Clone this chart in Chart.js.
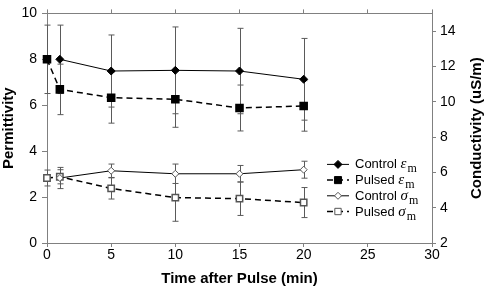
<!DOCTYPE html>
<html>
<head>
<meta charset="utf-8">
<script src="https://cdn.jsdelivr.net/npm/chart.js@4.4.0/dist/chart.umd.min.js"></script>
<style>
  html, body { margin: 0; padding: 0; background: #fff; }
  #wrap { width: 489px; height: 288px; }
</style>
</head>
<body>
<div id="wrap"><canvas id="myChart" width="489" height="288"></canvas></div>
<script>
// time points (min)
const timeControl = [1, 5, 10, 15, 20];
const timePulsed = [0, 1, 5, 10, 15, 20];

// permittivity (left axis)
const controlEps = [8.0, 7.49, 7.52, 7.49, 7.13];
const controlEpsErr = [1.49, 1.57, 1.89, 1.86, 1.78];
const pulsedEps = [8.0, 6.69, 6.33, 6.26, 5.88, 5.97];
const pulsedEpsErr = [1.49, 1.1, 1.11, 1.22, 1.0, 1.1];

// conductivity uS/m (right axis)
const controlSigma = [5.68, 6.09, 5.92, 5.92, 6.15];
const controlSigmaErr = [0.6, 0.38, 0.55, 0.47, 0.48];
const pulsedSigma = [5.68, 5.75, 5.09, 4.57, 4.51, 4.29];
const pulsedSigmaErr = [0.45, 0.4, 0.6, 1.34, 0.95, 0.85];

const toPoints = (xs, ys) => xs.map((x, i) => ({ x: x, y: ys[i] }));

const FONT = '"Liberation Sans", Arial, sans-serif';
const rightTitle = 'Conductivity (uS/m)';

// vertical error bars drawn through the chart scales
const errorBars = {
  id: 'errorBars',
  beforeDatasetsDraw(chart) {
    const ctx = chart.ctx;
    ctx.save();
    ctx.strokeStyle = '#5a5a5a';
    ctx.lineWidth = 1;
    chart.data.datasets.forEach((ds, i) => {
      if (!ds.errors) return;
      const meta = chart.getDatasetMeta(i);
      const xs = chart.scales[meta.xAxisID];
      const ys = chart.scales[meta.yAxisID];
      ds.data.forEach((p, j) => {
        const e = ds.errors[j];
        const px = Math.round(xs.getPixelForValue(p.x)) + 0.5;
        const top = ys.getPixelForValue(p.y + e);
        const bot = ys.getPixelForValue(p.y - e);
        ctx.beginPath();
        ctx.moveTo(px, top);
        ctx.lineTo(px, bot);
        ctx.moveTo(px - 3, top);
        ctx.lineTo(px + 3, top);
        ctx.moveTo(px - 3, bot);
        ctx.lineTo(px + 3, bot);
        ctx.stroke();
      });
    });
    ctx.restore();
  }
};

// right axis title, reading bottom to top like the left one
const rightAxisTitle = {
  id: 'rightAxisTitle',
  afterDraw(chart) {
    const s = chart.scales.y2;
    const ctx = chart.ctx;
    ctx.save();
    ctx.translate(s.right - 12, (s.top + s.bottom) / 2);
    ctx.rotate(-Math.PI / 2);
    ctx.font = 'bold 15px ' + FONT;
    ctx.fillStyle = '#000';
    ctx.textAlign = 'center';
    ctx.textBaseline = 'middle';
    ctx.fillText(rightTitle, 0, 0);
    ctx.restore();
  }
};

// legend inside the plot area, line sample + marker + label with subscript
const innerLegend = {
  id: 'innerLegend',
  afterDraw(chart) {
    const ctx = chart.ctx;
    const area = chart.chartArea;
    const x0 = area.right - 105;
    let y = area.top + 151;
    ctx.save();
    chart.data.datasets.forEach((ds) => {
      ctx.strokeStyle = '#000';
      ctx.lineWidth = ds.borderWidth;
      ctx.setLineDash(ds.borderDash || []);
      ctx.beginPath();
      ctx.moveTo(x0, y);
      ctx.lineTo(x0 + 22, y);
      ctx.stroke();
      ctx.setLineDash([]);
      ctx.fillStyle = ds.pointBackgroundColor;
      ctx.strokeStyle = ds.pointBorderColor;
      ctx.lineWidth = 1;
      Chart.helpers.drawPoint(ctx, {
        pointStyle: ds.pointStyle, radius: ds.pointRadius, rotation: 0, borderWidth: 1
      }, x0 + 11, y);
      ctx.fillStyle = '#000';
      ctx.textBaseline = 'alphabetic';
      ctx.font = '13px ' + FONT;
      let tx = x0 + 28;
      ctx.fillText(ds.legendName, tx, y + 4);
      tx += ctx.measureText(ds.legendName + ' ').width;
      ctx.font = 'italic 15px "Liberation Serif", serif';
      ctx.fillText(ds.symbol, tx, y + 4);
      tx += ctx.measureText(ds.symbol).width + 1;
      ctx.font = '12px "Liberation Serif", serif';
      ctx.fillText('m', tx, y + 8);
      y += 15.7;
    });
    ctx.restore();
  }
};

const axisColor = '#808080';

new Chart(document.getElementById('myChart').getContext('2d'), {
  type: 'line',
  data: {
    datasets: [
      {
        legendName: 'Control', symbol: 'ε',
        data: toPoints(timeControl, controlEps), errors: controlEpsErr,
        xAxisID: 'x', yAxisID: 'y', clip: false,
        borderColor: '#000', borderWidth: 1,
        pointStyle: 'rectRot', pointRadius: 4,
        pointBackgroundColor: '#000', pointBorderColor: '#000'
      },
      {
        legendName: 'Pulsed', symbol: 'ε',
        data: toPoints(timePulsed, pulsedEps), errors: pulsedEpsErr,
        xAxisID: 'x', yAxisID: 'y', clip: false,
        borderColor: '#000', borderWidth: 1.5, borderDash: [6, 4],
        pointStyle: 'rect', pointRadius: 5,
        pointBackgroundColor: '#000', pointBorderColor: '#000'
      },
      {
        legendName: 'Control', symbol: 'σ',
        data: toPoints(timeControl, controlSigma), errors: controlSigmaErr,
        xAxisID: 'x', yAxisID: 'y2', clip: false,
        borderColor: '#000', borderWidth: 1,
        pointStyle: 'rectRot', pointRadius: 3.5,
        pointBackgroundColor: '#fff', pointBorderColor: '#555'
      },
      {
        legendName: 'Pulsed', symbol: 'σ',
        data: toPoints(timePulsed, pulsedSigma), errors: pulsedSigmaErr,
        xAxisID: 'x', yAxisID: 'y2', clip: false,
        borderColor: '#000', borderWidth: 1.5, borderDash: [6, 4],
        pointStyle: 'rect', pointRadius: 4.5,
        pointBackgroundColor: '#fff', pointBorderColor: '#555'
      }
    ]
  },
  options: {
    responsive: false,
    animation: false,
    devicePixelRatio: 1,
    layout: { padding: 0 },
    plugins: { legend: { display: false }, tooltip: { enabled: false } },
    elements: { line: { tension: 0 }, point: { borderWidth: 1 } },
    scales: {
      x: {
        type: 'linear', position: 'bottom', min: 0, max: 30,
        ticks: { stepSize: 5, color: '#000', font: { family: FONT, size: 14 }, padding: 0, maxRotation: 0 },
        grid: { drawOnChartArea: false, drawTicks: true, tickLength: 4, color: axisColor },
        border: { color: axisColor },
        title: { display: true, text: 'Time after Pulse (min)', color: '#000',
          font: { family: FONT, size: 15, weight: 'bold' }, padding: 0 },
        afterFit: (s) => { s.height = 45; }
      },
      x2: {
        type: 'linear', position: 'top', min: 0, max: 30,
        ticks: { stepSize: 5, display: false },
        grid: { drawOnChartArea: false, drawTicks: true, tickLength: 4, color: axisColor },
        border: { color: axisColor },
        afterFit: (s) => { s.height = 13; }
      },
      y: {
        position: 'left', min: 0, max: 10,
        ticks: { stepSize: 2, color: '#000', font: { family: FONT, size: 14 }, padding: 5 },
        grid: { drawOnChartArea: false, drawTicks: true, tickLength: 5, color: axisColor },
        border: { color: axisColor },
        title: { display: true, text: 'Permittivity', color: '#000',
          font: { family: FONT, size: 15, weight: 'bold' }, padding: 0 },
        afterFit: (s) => { s.width = 47; }
      },
      y2: {
        position: 'right', min: 2, max: 15,
        ticks: { stepSize: 2, color: '#000', font: { family: FONT, size: 14 }, padding: 4 },
        afterBuildTicks: (s) => { s.ticks = s.ticks.filter(t => t.value % 2 === 0); },
        grid: { drawOnChartArea: false, drawTicks: true, tickLength: 4, color: axisColor },
        border: { color: axisColor },
        title: { display: false },
        afterFit: (s) => { s.width = 57; }
      }
    }
  },
  plugins: [errorBars, rightAxisTitle, innerLegend]
});
</script>
</body>
</html>
